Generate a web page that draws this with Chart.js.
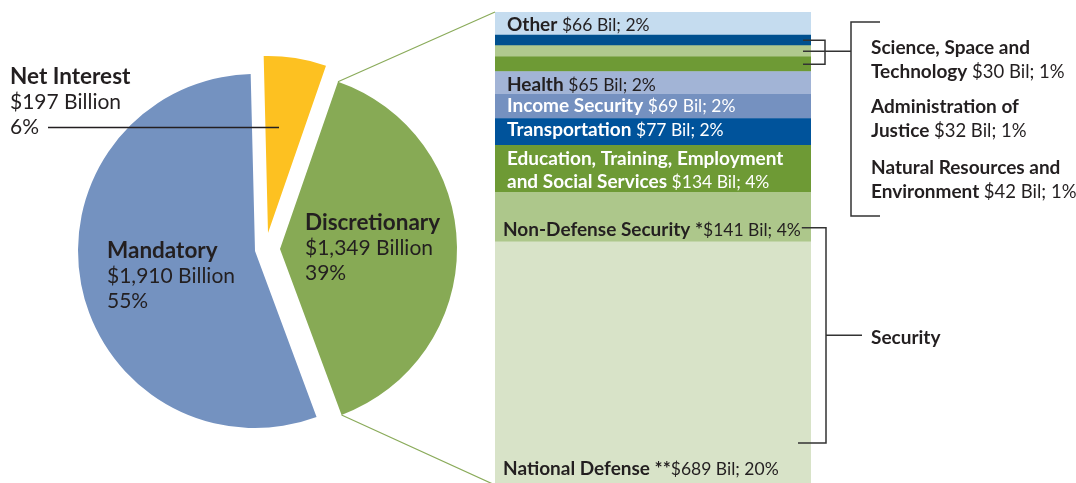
<!DOCTYPE html>
<html><head><meta charset="utf-8">
<script src="https://cdn.jsdelivr.net/npm/chart.js@4.4.1/dist/chart.umd.min.js"></script>
<style>
html,body{margin:0;padding:0;background:#fff;}
#wrap{position:relative;width:1076px;height:483px;overflow:hidden;}
canvas{position:absolute;left:0;top:0;}
</style></head><body>
<div id="wrap"><canvas id="pie" width="1076" height="483"></canvas><canvas id="bar" width="1076" height="483"></canvas></div>
<script>
// ---------- DATA ----------
const pieCategories = ['Net Interest', 'Discretionary', 'Mandatory'];
const pieValues = [197, 1349, 1910];
const pieAmountLabels = ['$197 Billion', '$1,349 Billion', '$1,910 Billion'];
const piePercentLabels = ['6%', '39%', '55%'];

const barCategories = ['National Defense', 'Non-Defense Security', 'Education, Training, Employment and Social Services',
  'Transportation', 'Income Security', 'Health', 'Natural Resources and Environment',
  'Administration of Justice', 'Science, Space and Technology', 'Other'];
const barValues = [689, 141, 134, 77, 69, 65, 42, 32, 30, 66];
const barPercentLabels = ['20%', '4%', '4%', '2%', '2%', '2%', '1%', '1%', '1%', '2%'];
const barMarks = ['**', '*', '', '', '', '', '', '', '', ''];
const bracketLabel = 'Security';

// ---------- STYLE ----------
const FONT = 'Lato, "Open Sans", sans-serif';
const DARK = '#231f20';
const pieColors = ['#fdc121', '#87aa55', '#7492c0'];
const explode = [[13, -18], [25, -2], [0, 0]];
const barColors = ['#d8e3c8', '#adc78b', '#6e9a35', '#00539b', '#7591c0', '#a2b4d6', '#6e9a35', '#b0c98e', '#00508f', '#c5dcef'];

function richText(ctx, x, y, parts, bSize, rSize) {
  let cx = x;
  parts.forEach(p => {
    ctx.font = p.b ? ('bold ' + bSize + 'px ' + FONT) : (rSize + 'px ' + FONT);
    ctx.fillText(p.t, cx, y);
    cx += ctx.measureText(p.t).width;
  });
  return cx;
}
function amount(i) { return '$' + barValues[i] + ' Bil; ' + barPercentLabels[i]; }

const explodePlugin = {
  id: 'explode',
  beforeDatasetsDraw(chart) {
    const a = chart.chartArea;
    const cx = (a.left + a.right) / 2, cy = (a.top + a.bottom) / 2;
    chart.getDatasetMeta(0).data.forEach((arc, i) => { arc.x = cx + explode[i][0]; arc.y = cy + explode[i][1]; });
  }
};

const pieLabelPlugin = {
  id: 'pieLabels',
  afterDraw(chart) {
    const ctx = chart.ctx;
    ctx.save();
    ctx.fillStyle = DARK;
    ctx.textBaseline = 'alphabetic';
    const pos = [[10, 84], [305, 230], [107, 258]];
    pos.forEach((p, i) => {
      ctx.font = 'bold 22.5px ' + FONT;
      ctx.fillText(pieCategories[i], p[0], p[1]);
      ctx.font = '21px ' + FONT;
      ctx.fillText(pieAmountLabels[i], p[0], p[1] + 25);
      ctx.fillText(piePercentLabels[i], p[0], p[1] + 50);
    });
    ctx.strokeStyle = DARK;
    ctx.lineWidth = 1.5;
    ctx.beginPath();
    ctx.moveTo(48, 127.5); ctx.lineTo(279, 127.5);
    ctx.stroke();
    ctx.restore();
  }
};

const pieChart = new Chart(document.getElementById('pie'), {
  type: 'pie',
  data: { labels: pieCategories, datasets: [{ data: pieValues, backgroundColor: pieColors, borderWidth: 0 }] },
  options: {
    responsive: false, animation: false, events: [],
    rotation: -1.4, radius: 177,
    layout: { padding: { left: 0, right: 566, top: 19, bottom: 0 } },
    plugins: { legend: { display: false }, tooltip: { enabled: false } }
  },
  plugins: [explodePlugin, pieLabelPlugin]
});

const barLabelPlugin = {
  id: 'barLabels',
  afterDraw(chart) {
    const ctx = chart.ctx;
    const a = chart.chartArea;
    const seg = i => chart.getDatasetMeta(i).data[0];
    ctx.save();
    ctx.textBaseline = 'alphabetic';
    const B = 19, R = 17.5;
    const lx = a.left + 12;
    // labels inside segments
    ctx.fillStyle = DARK;
    richText(ctx, lx, seg(9).y + 19, [{ t: barCategories[9] + ' ', b: 1 }, { t: amount(9) }], B, R);
    richText(ctx, lx, seg(5).y + 19, [{ t: barCategories[5] + ' ', b: 1 }, { t: amount(5) }], B, R);
    ctx.fillStyle = '#ffffff';
    richText(ctx, lx, seg(4).y + 18, [{ t: barCategories[4] + ' ', b: 1 }, { t: amount(4) }], B, R);
    richText(ctx, lx, seg(3).y + 18, [{ t: barCategories[3] + ' ', b: 1 }, { t: amount(3) }], B, R);
    const ed = barCategories[2].split(' ');
    richText(ctx, lx, seg(2).y + 20, [{ t: ed.slice(0, 3).join(' '), b: 1 }], B, R);
    richText(ctx, lx, seg(2).y + 43, [{ t: ed.slice(3).join(' ') + ' ', b: 1 }, { t: amount(2) }], B, R);
    ctx.fillStyle = DARK;
    const ndsEnd = richText(ctx, a.left + 8, seg(1).base - 6, [{ t: barCategories[1] + ' ' + barMarks[1], b: 1 }, { t: amount(1) }], B, R);
    richText(ctx, a.left + 8, seg(0).base - 8, [{ t: barCategories[0] + ' ' + barMarks[0], b: 1 }, { t: amount(0) }], B, R);

    // right-side labels
    const rx = 871;
    const rightItems = [[8, 3, 54], [7, 2, 113], [6, 3, 174]];
    rightItems.forEach(([i, n, y]) => {
      const w = barCategories[i].split(' ');
      richText(ctx, rx, y, [{ t: w.slice(0, n).join(' '), b: 1 }], 19, 18.5);
      richText(ctx, rx, y + 24, [{ t: w.slice(n).join(' ') + ' ', b: 1 }, { t: amount(i) }], 19, 18.5);
    });

    // brackets
    ctx.strokeStyle = '#333333';
    ctx.lineWidth = 1.5;
    const mid = i => (seg(i).y + seg(i).base) / 2;
    const bx1 = a.right - 8, bx2 = a.right + 14, bx3 = a.right + 40;
    ctx.beginPath();
    ctx.moveTo(bx1, mid(8)); ctx.lineTo(bx2, mid(8)); ctx.lineTo(bx2, mid(6)); ctx.lineTo(bx1, mid(6));
    ctx.moveTo(bx1, mid(7)); ctx.lineTo(bx3, mid(7));
    // big bracket
    ctx.moveTo(bx3 + 29, a.top + 10); ctx.lineTo(bx3, a.top + 10); ctx.lineTo(bx3, 216); ctx.lineTo(bx3 + 29, 216);
    // security bracket
    const st = seg(1).base - 14, sb = a.bottom - 40, sx = a.right + 15;
    ctx.moveTo(ndsEnd + 1, st); ctx.lineTo(sx, st); ctx.lineTo(sx, sb); ctx.lineTo(a.right - 13, sb);
    ctx.moveTo(sx, (st + sb) / 2); ctx.lineTo(sx + 36, (st + sb) / 2);
    ctx.stroke();
    richText(ctx, rx, (st + sb) / 2 + 9, [{ t: bracketLabel, b: 1 }], 19, 18.5);

    // connectors from the discretionary slice to the bar
    const g = pieChart.getDatasetMeta(0).data[1];
    const Rr = g.outerRadius;
    ctx.strokeStyle = '#8aab5a';
    ctx.lineWidth = 1.2;
    ctx.beginPath();
    ctx.moveTo(g.x + Rr * Math.cos(g.startAngle), g.y + Rr * Math.sin(g.startAngle));
    ctx.lineTo(a.left, a.top);
    ctx.moveTo(g.x + Rr * Math.cos(g.endAngle), g.y + Rr * Math.sin(g.endAngle));
    ctx.lineTo(a.left, a.bottom + 2);
    ctx.stroke();
    ctx.restore();
  }
};

const barTotal = barValues.reduce((s, v) => s + v, 0);
new Chart(document.getElementById('bar'), {
  type: 'bar',
  data: {
    labels: ['Discretionary'],
    datasets: barValues.map((v, i) => ({
      label: barCategories[i], data: [v], backgroundColor: barColors[i], borderWidth: 0,
      barPercentage: 1, categoryPercentage: 1
    }))
  },
  options: {
    responsive: false, animation: false, events: [],
    layout: { padding: { left: 495, right: 265, top: 12, bottom: 0 } },
    scales: {
      x: { stacked: true, display: false },
      y: { stacked: true, display: false, min: 0, max: barTotal }
    },
    plugins: { legend: { display: false }, tooltip: { enabled: false } }
  },
  plugins: [barLabelPlugin]
});
</script>
</body></html>
